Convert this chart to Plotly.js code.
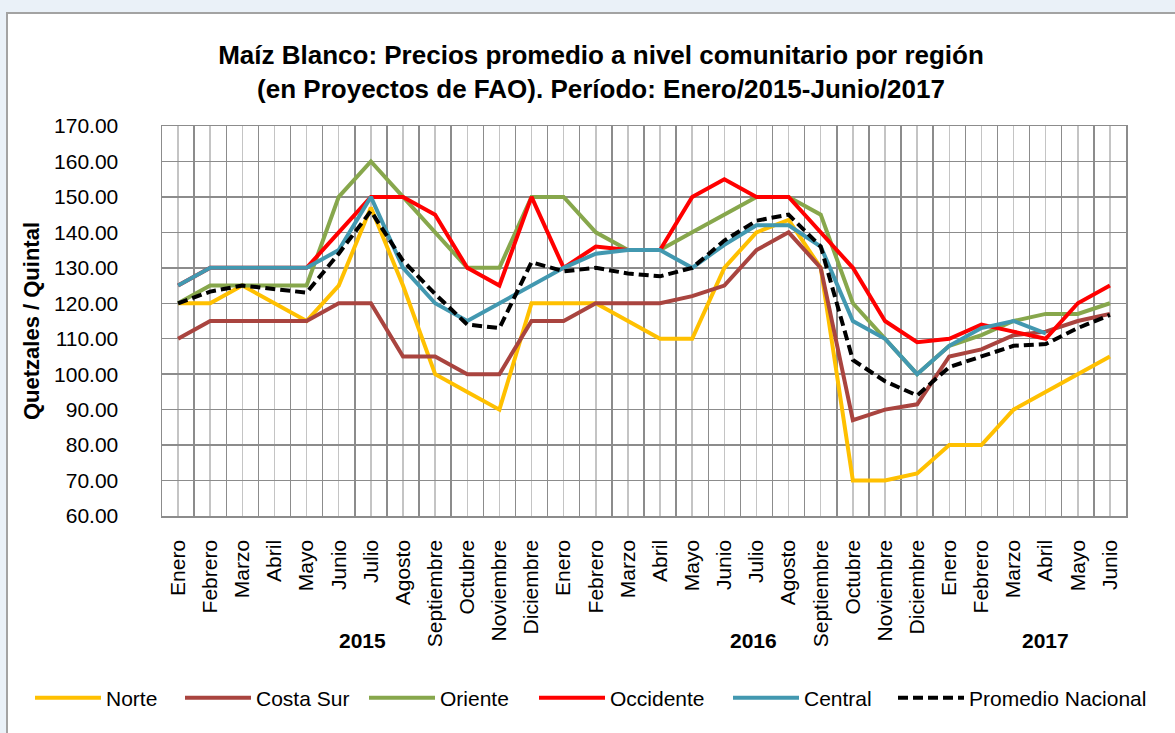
<!DOCTYPE html>
<html>
<head>
<meta charset="utf-8">
<script src="https://cdn.plot.ly/plotly-3.0.1.min.js"></script>
<style>
  body { margin: 0; background: #eaf1f8; overflow: hidden; }
  #frame {
    position: absolute; left: 6px; top: 12px; width: 1200px; height: 760px;
    background: #ffffff; border: 2px solid #a3a3a3;
  }
  #chart { position: absolute; left: 0; top: 0; width: 1175px; height: 733px; }
</style>
</head>
<body>
<div id="frame"></div>
<div id="chart"></div>
<script>
// --- datos ---
const months = [
    'Enero', 'Febrero', 'Marzo', 'Abril', 'Mayo', 'Junio', 'Julio', 'Agosto',
    'Septiembre', 'Octubre', 'Noviembre', 'Diciembre',
    'Enero', 'Febrero', 'Marzo', 'Abril', 'Mayo', 'Junio', 'Julio', 'Agosto',
    'Septiembre', 'Octubre', 'Noviembre', 'Diciembre',
    'Enero', 'Febrero', 'Marzo', 'Abril', 'Mayo', 'Junio'
];
const years = ['2015', '2016', '2017'];

const norte      = [120, 120, 125, 120, 115, 125, 147, 125, 100, 95, 90, 120,
                    120, 120, 115, 110, 110, 130, 140, 143.5, 130, 70, 70, 72,
                    80, 80, 90, 95, 100, 105];
const costaSur   = [110, 115, 115, 115, 115, 120, 120, 105, 105, 100, 100, 115,
                    115, 120, 120, 120, 122, 125, 135, 140, 130, 87, 90, 91.5,
                    105, 107, 111, 112, 115, 117];
const oriente    = [120, 125, 125, 125, 125, 150, 160, 150, 140, 130, 130, 150,
                    150, 140, 135, 135, 140, 145, 150, 150, 145, 120, 110, 100,
                    108, 111, 115, 117, 117, 120];
const occidente  = [125, 130, 130, 130, 130, 140, 150, 150, 145, 130, 125, 150,
                    130, 136, 135, 135, 150, 155, 150, 150, 140, 130, 115, 109,
                    110, 114, 112, 110, 120, 125];
const central    = [125, 130, 130, 130, 130, 135, 150, 130, 120, 115, 120, 125,
                    130, 134, 135, 135, 130, 136.5, 142, 142, 136, 115, 110, 100,
                    108, 113, 115, 111.5, null, null];
const promedio   = [120, 123.3, 125, 124, 123, 134, 146, 132, 122.6, 114, 113, 131.6,
                    129, 130, 128.4, 127.6, 130, 137.7, 143.3, 145, 136, 104, 98, 94,
                    102, 105, 108, 108.5, 113, 116.7];

const idx = months.map((m, i) => i);
const FONT = 'Liberation Sans, Arial, sans-serif';

// --- series ---
const series = [
    { name: 'Norte', y: norte, color: '#FFC000' },
    { name: 'Costa Sur', y: costaSur, color: '#A9443F' },
    { name: 'Oriente', y: oriente, color: '#87A74C' },
    { name: 'Occidente', y: occidente, color: '#FF0000' },
    { name: 'Central', y: central, color: '#4298B0' },
    { name: 'Promedio Nacional', y: promedio, color: '#000000', dash: '10px,5px' }
];

// una leyenda por serie, para poder colocar cada entrada como en Excel
const legendIds = series.map((s, i) => i === 0 ? 'legend' : 'legend' + (i + 1));
const legendLeft = [36, 186, 370, 540, 734, 899];

const traces = series.map((s, i) => ({
    x: idx,
    y: s.y,
    name: s.name,
    type: 'scatter',
    mode: 'lines',
    connectgaps: false,
    legend: legendIds[i],
    line: { color: s.color, width: 4, dash: s.dash || 'solid' },
    hoverinfo: 'skip'
}));

// --- layout ---
const layout = {
    width: 1175,
    height: 733,
    paper_bgcolor: 'rgba(0,0,0,0)',
    plot_bgcolor: '#ffffff',
    margin: { l: 162, r: 49, t: 126, b: 217 },
    font: { family: FONT, color: '#000000' },
    title: {
        text: 'Maíz Blanco: Precios promedio a nivel comunitario por región<br>(en Proyectos de FAO). Período: Enero/2015-Junio/2017',
        font: { family: FONT, size: 26, weight: 'bold', color: '#000000' },
        x: 601 / 1175,
        xanchor: 'center',
        y: 1 - 64 / 733,
        yanchor: 'middle'
    },
    xaxis: {
        range: [-0.5, 29.5],
        tickmode: 'array',
        tickvals: idx,
        ticktext: months,
        tickangle: -90,
        tickfont: { family: FONT, size: 21 },
        ticks: '',
        ticklabelstandoff: 14,
        showgrid: true,
        gridcolor: '#c4c4c4',
        gridwidth: 1.5,
        minor: { tickmode: 'linear', tick0: -0.5, dtick: 1, showgrid: true,
                 gridcolor: '#8c8c8c', gridwidth: 1.5, ticks: '' },
        showline: true,
        mirror: true,
        linecolor: '#8c8c8c',
        linewidth: 1.5,
        zeroline: false,
        fixedrange: true
    },
    yaxis: {
        range: [60, 170],
        dtick: 10,
        tick0: 60,
        tickformat: '.2f',
        tickfont: { family: FONT, size: 21 },
        ticks: '',
        ticklabelstandoff: 38,
        showgrid: true,
        gridcolor: '#8c8c8c',
        gridwidth: 1.5,
        showline: true,
        mirror: true,
        linecolor: '#8c8c8c',
        linewidth: 1.5,
        zeroline: false,
        title: {
            text: 'Quetzales / Quintal',
            font: { family: FONT, size: 22, weight: 'bold' },
            standoff: 8
        },
        fixedrange: true
    },
    showlegend: true,
    annotations: years.map((yr, i) => ({
        text: '<b>' + yr + '</b>',
        x: [5.75, 17.9, 27.0][i],
        xref: 'x',
        y: -0.32,
        yref: 'paper',
        showarrow: false,
        font: { family: FONT, size: 21 },
        xanchor: 'center',
        yanchor: 'middle'
    }))
};

legendIds.forEach((id, i) => {
    layout[id] = {
        orientation: 'h',
        xref: 'container',
        yref: 'container',
        x: (legendLeft[i] - 6) / 1175,
        xanchor: 'left',
        y: 1 - 698 / 733,
        yanchor: 'middle',
        itemwidth: 66,
        font: { family: FONT, size: 21 },
        bgcolor: 'rgba(0,0,0,0)',
        borderwidth: 0
    };
});

Plotly.newPlot('chart', traces, layout, { staticPlot: true, displayModeBar: false });
</script>
</body>
</html>
